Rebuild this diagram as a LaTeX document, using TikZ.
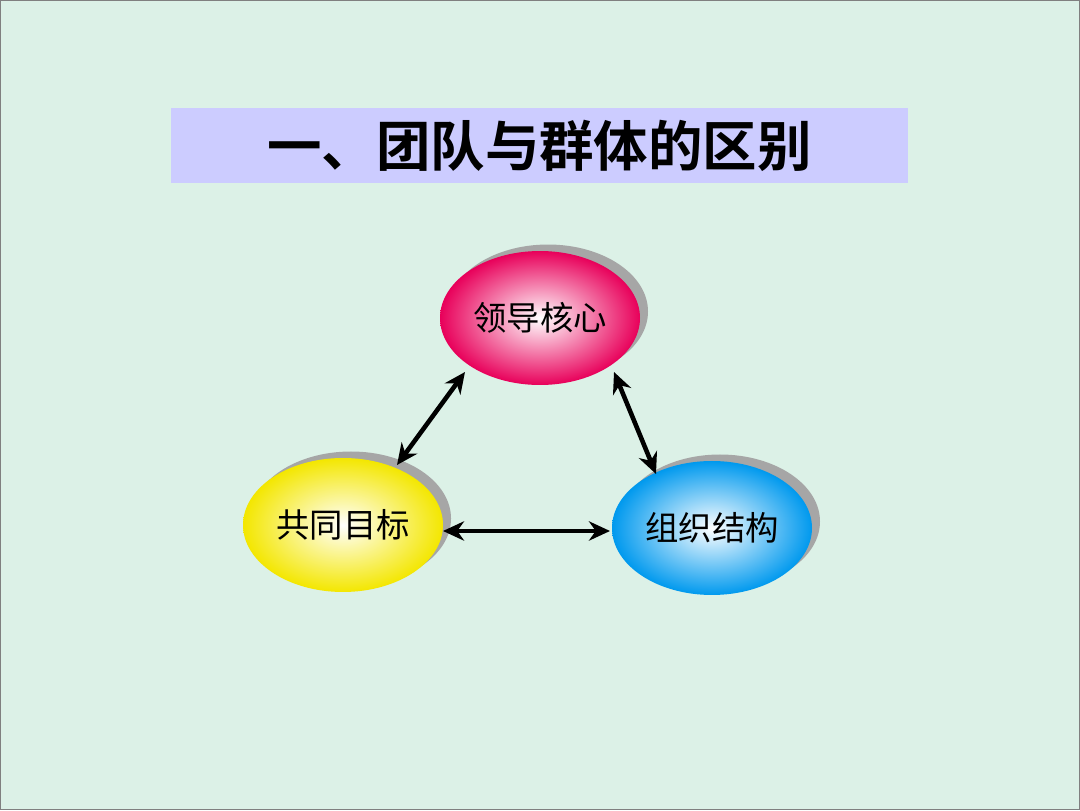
\documentclass[tikz,border=0pt]{standalone}
\usepackage{fontspec}
\newfontfamily\cjk{Noto Sans CJK SC}
\newfontfamily\cjkbold{Noto Sans CJK SC Bold}
\usetikzlibrary{shapes.geometric,arrows.meta}
\definecolor{bgmint}{HTML}{DCF1E7}
\definecolor{titlebg}{HTML}{CCCCFF}
\definecolor{roseclr}{HTML}{E8005A}
\definecolor{sunclr}{HTML}{F2F200}
\definecolor{skyclr}{HTML}{0099EE}
\tikzset{
  bubble/.style={ellipse, minimum width=4cm, minimum height=2.68cm, inner sep=0pt,
    font=\cjk\fontsize{19}{19}\selectfont, shading=radial, inner color=white},
  bubbleshadow/.style={ellipse, minimum width=4cm, minimum height=2.68cm, fill=gray!70},
  link/.style={{Stealth[length=12pt,width=11pt]}-{Stealth[length=12pt,width=11pt]}, line width=2.6pt}
}
\begin{document}
\begin{tikzpicture}
  \fill[bgmint] (0,0) rectangle (21.6,16.2);
  \draw[gray, line width=0.6pt] (0.01,0.01) rectangle (21.59,16.19);
  \useasboundingbox (0,0) rectangle (21.6,16.2);
  % title
  \node[fill=titlebg, minimum width=14.74cm, minimum height=1.5cm,
    font=\cjkbold\fontsize{31}{31}\selectfont] (title) at (10.79,13.29) {一、团队与群体的区别};
  % shadows
  \node[bubbleshadow] at (10.96,9.97) {};
  \node[bubbleshadow] at (7.02,5.83) {};
  \node[bubbleshadow] at (14.40,5.77) {};
  % bubbles
  \node[bubble, outer color=roseclr] (lead) at (10.80,9.84) {领导核心};
  \node[bubble, outer color=sunclr!90!orange] (goal) at (6.86,5.70) {共同目标};
  \node[bubble, outer color=skyclr] (org) at (14.24,5.64) {组织结构};
  % links
  \draw[link] (9.30,8.76) -- (7.94,6.90);
  \draw[link] (12.28,8.76) -- (13.12,6.72);
  \draw[link] (8.86,5.58) -- (12.20,5.58);
\end{tikzpicture}
\end{document}
